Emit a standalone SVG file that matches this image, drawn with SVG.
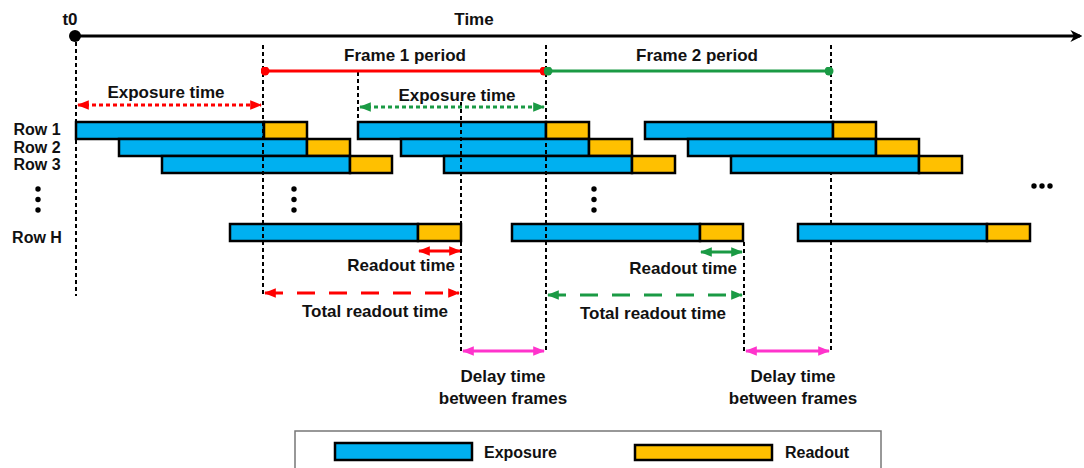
<svg xmlns="http://www.w3.org/2000/svg" width="1084" height="468" viewBox="0 0 1084 468">
  <style>
    text { font-family: "Liberation Sans", Arial, sans-serif; font-weight: bold; font-size: 17px; fill: #111; }
    .small { font-size: 16px; }
    .exp { fill: #00b0f0; stroke: #000; stroke-width: 2.5; }
    .rd { fill: #ffc000; stroke: #000; stroke-width: 2.5; }
    .guide { stroke: #000; stroke-width: 2; stroke-dasharray: 4 3; fill: none; }
    .red { stroke: #ff0000; }
    .green { stroke: #1a9a44; }
    .pink { stroke: #ff33cc; }
  </style>
  <defs>
    <marker id="dotR" viewBox="0 0 10 10" refX="5" refY="5" markerWidth="3" markerHeight="3"><circle cx="5" cy="5" r="5" fill="#ff0000"/></marker>
    <marker id="dotG" viewBox="0 0 10 10" refX="5" refY="5" markerWidth="3" markerHeight="3"><circle cx="5" cy="5" r="5" fill="#1a9a44"/></marker>
    <marker id="arrR" viewBox="0 0 10 10" refX="9" refY="5" markerWidth="4" markerHeight="4" orient="auto-start-reverse"><path d="M0,1 L10,5 L0,9 Z" fill="#ff0000"/></marker>
    <marker id="arrG" viewBox="0 0 10 10" refX="9" refY="5" markerWidth="4" markerHeight="4" orient="auto-start-reverse"><path d="M0,1 L10,5 L0,9 Z" fill="#1a9a44"/></marker>
    <marker id="arrP" viewBox="0 0 10 10" refX="9" refY="5" markerWidth="4" markerHeight="4" orient="auto-start-reverse"><path d="M0,1 L10,5 L0,9 Z" fill="#ff33cc"/></marker>
    <marker id="arrK" viewBox="0 0 10 10" refX="8" refY="5" markerWidth="4" markerHeight="4" orient="auto"><path d="M0,0 L10,5 L0,10 L3,5 Z" fill="#000"/></marker>
  </defs>

  <!-- time axis -->
  <g id="time-axis">
    <line x1="75" y1="36" x2="1080" y2="36" stroke="#000" stroke-width="3" marker-end="url(#arrK)"/>
    <circle cx="75" cy="36" r="6" fill="#000"/>
    <text x="70" y="25" text-anchor="middle">t0</text>
    <text x="474" y="25" text-anchor="middle">Time</text>
  </g>

  <!-- guides drawn behind the bars -->
  <g id="guides-back">
    <line class="guide" x1="831" y1="45" x2="831" y2="352"/>
  </g>

  <!-- frame 1 -->
  <g id="frame1">
    <rect class="exp" x="76" y="122" width="188" height="17"/><rect class="rd" x="264" y="122" width="43" height="17"/>
    <rect class="exp" x="119" y="139" width="188" height="17"/><rect class="rd" x="307" y="139" width="43" height="17"/>
    <rect class="exp" x="162" y="156" width="188" height="17"/><rect class="rd" x="350" y="156" width="42" height="17"/>
    <rect class="exp" x="230" y="224" width="188" height="17"/><rect class="rd" x="418" y="224" width="43" height="17"/>
  </g>
  <!-- frame 2 -->
  <g id="frame2">
    <rect class="exp" x="358" y="122" width="188" height="17"/><rect class="rd" x="546" y="122" width="43" height="17"/>
    <rect class="exp" x="401" y="139" width="188" height="17"/><rect class="rd" x="589" y="139" width="43" height="17"/>
    <rect class="exp" x="444" y="156" width="188" height="17"/><rect class="rd" x="632" y="156" width="43" height="17"/>
    <rect class="exp" x="512" y="224" width="188" height="17"/><rect class="rd" x="700" y="224" width="43" height="17"/>
  </g>
  <!-- frame 3 -->
  <g id="frame3">
    <rect class="exp" x="645" y="122" width="188" height="17"/><rect class="rd" x="833" y="122" width="43" height="17"/>
    <rect class="exp" x="688" y="139" width="188" height="17"/><rect class="rd" x="876" y="139" width="43" height="17"/>
    <rect class="exp" x="731" y="156" width="188" height="17"/><rect class="rd" x="919" y="156" width="43" height="17"/>
    <rect class="exp" x="798" y="224" width="189" height="17"/><rect class="rd" x="987" y="224" width="43" height="17"/>
  </g>

  <!-- guides drawn over the bars -->
  <g id="guides-front">
    <line class="guide" x1="76" y1="42" x2="76" y2="296"/>
    <line class="guide" x1="263" y1="45" x2="263" y2="296"/>
    <line class="guide" x1="358" y1="72" x2="358" y2="121"/>
    <line class="guide" x1="461" y1="102" x2="461" y2="352"/>
    <line class="guide" x1="546" y1="45" x2="546" y2="352"/>
    <line class="guide" x1="744" y1="242" x2="744" y2="352"/>
  </g>

  <!-- row labels and ellipses -->
  <g id="row-labels">
    <text class="small" x="37" y="135" text-anchor="middle">Row 1</text>
    <text class="small" x="37" y="153" text-anchor="middle">Row 2</text>
    <text class="small" x="37" y="170" text-anchor="middle">Row 3</text>
    <text class="small" x="37" y="243" text-anchor="middle">Row H</text>
    <g fill="#000">
      <circle cx="38" cy="189" r="2.7"/><circle cx="38" cy="199.5" r="2.7"/><circle cx="38" cy="210" r="2.7"/>
      <circle cx="294" cy="189" r="2.7"/><circle cx="294" cy="199.5" r="2.7"/><circle cx="294" cy="210" r="2.7"/>
      <circle cx="594" cy="189" r="2.7"/><circle cx="594" cy="199.5" r="2.7"/><circle cx="594" cy="210" r="2.7"/>
      <circle cx="1034" cy="186" r="2.7"/><circle cx="1042" cy="186" r="2.7"/><circle cx="1050" cy="186" r="2.7"/>
    </g>
  </g>

  <!-- interval connectors -->
  <g id="connectors" fill="none" stroke-width="3">
    <line class="red" x1="265" y1="71" x2="544" y2="71" marker-start="url(#dotR)" marker-end="url(#dotR)"/>
    <line class="green" x1="548" y1="71" x2="829" y2="71" marker-start="url(#dotG)" marker-end="url(#dotG)"/>
    <line class="red" x1="78" y1="105" x2="261" y2="105" stroke-dasharray="4 3" marker-start="url(#arrR)" marker-end="url(#arrR)"/>
    <line class="green" x1="360" y1="107" x2="544" y2="107" stroke-dasharray="4 3" marker-start="url(#arrG)" marker-end="url(#arrG)"/>
    <line class="red" x1="419" y1="251" x2="460" y2="251" marker-start="url(#arrR)" marker-end="url(#arrR)"/>
    <line class="green" x1="701" y1="252" x2="742" y2="252" marker-start="url(#arrG)" marker-end="url(#arrG)"/>
    <line class="red" x1="265" y1="293" x2="459" y2="293" stroke-dasharray="18 14" marker-start="url(#arrR)" marker-end="url(#arrR)"/>
    <line class="green" x1="548" y1="295" x2="742" y2="295" stroke-dasharray="18 14" marker-start="url(#arrG)" marker-end="url(#arrG)"/>
    <line class="pink" x1="463" y1="351" x2="544" y2="351" marker-start="url(#arrP)" marker-end="url(#arrP)"/>
    <line class="pink" x1="746" y1="351" x2="829" y2="351" marker-start="url(#arrP)" marker-end="url(#arrP)"/>
  </g>

  <!-- interval labels -->
  <g id="labels">
    <text x="405" y="61" text-anchor="middle">Frame 1 period</text>
    <text x="697" y="61" text-anchor="middle">Frame 2 period</text>
    <text x="166" y="98" text-anchor="middle">Exposure time</text>
    <text x="457" y="101" text-anchor="middle">Exposure time</text>
    <text x="455" y="271" text-anchor="end">Readout time</text>
    <text x="737" y="274" text-anchor="end">Readout time</text>
    <text x="375" y="317" text-anchor="middle">Total readout time</text>
    <text x="653" y="319" text-anchor="middle">Total readout time</text>
    <text x="503" y="382" text-anchor="middle">Delay time</text>
    <text x="503" y="404" text-anchor="middle">between frames</text>
    <text x="793" y="382" text-anchor="middle">Delay time</text>
    <text x="793" y="404" text-anchor="middle">between frames</text>
  </g>

  <!-- legend -->
  <g id="legend">
    <rect x="295" y="431" width="586" height="45" fill="#fff" stroke="#777" stroke-width="1.5"/>
    <rect class="exp" x="335" y="443" width="137" height="17"/>
    <text class="small" x="484" y="458">Exposure</text>
    <rect class="rd" x="635" y="445" width="137" height="15"/>
    <text class="small" x="785" y="458">Readout</text>
  </g>
</svg>
